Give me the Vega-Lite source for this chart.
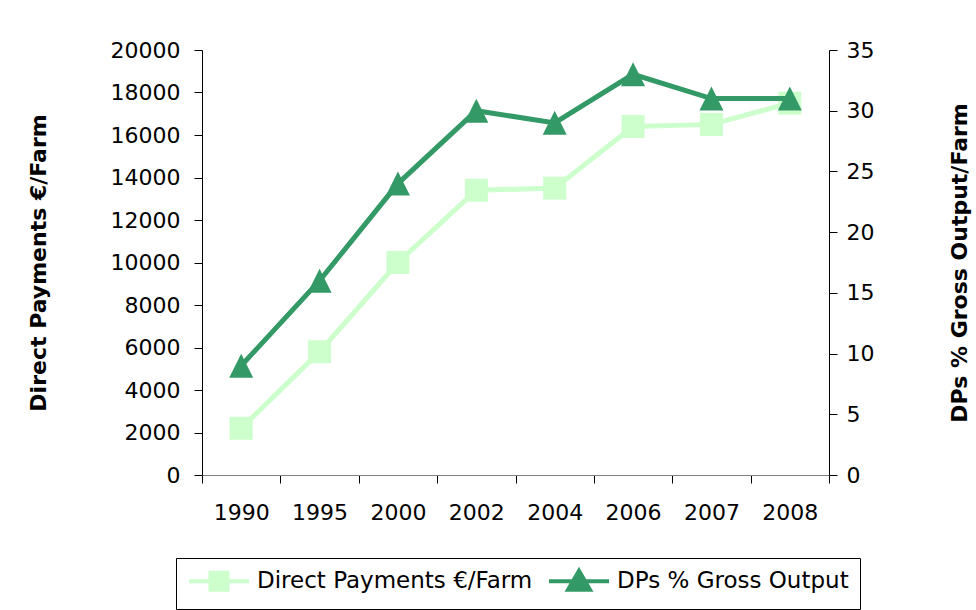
{
  "$schema": "https://vega.github.io/schema/vega-lite/v6.json",
  "width": 627,
  "height": 425,
  "autosize": {"type": "none"},
  "padding": {"left": 202, "top": 50, "right": 147, "bottom": 135},
  "background": "white",
  "config": {
    "view": {"stroke": null},
    "font": "DejaVu Sans",
    "axis": {"grid": false, "labelFont": "DejaVu Sans", "labelFontSize": 22, "labelColor": "#000", "titleFont": "DejaVu Sans", "titleFontSize": 22, "titleFontWeight": "bold", "titleColor": "#000", "tickColor": "#000", "domainColor": "#000", "tickSize": 8, "domainWidth": 1, "tickWidth": 1},
    "legend": {"labelFont": "DejaVu Sans", "labelFontSize": 23, "labelColor": "#000", "symbolOpacity": 1, "labelLimit": 0}
  },
  "data": {
    "values": [
      {"year": "1990", "dp": 2200, "pct": 9},
      {"year": "1995", "dp": 5800, "pct": 16},
      {"year": "2000", "dp": 10000, "pct": 24},
      {"year": "2002", "dp": 13400, "pct": 30},
      {"year": "2004", "dp": 13500, "pct": 29},
      {"year": "2006", "dp": 16400, "pct": 33},
      {"year": "2007", "dp": 16500, "pct": 31},
      {"year": "2008", "dp": 17500, "pct": 31}
    ]
  },
  "encoding": {
    "x": {
      "field": "year", "type": "ordinal", "sort": null,
      "scale": {"paddingInner": 0, "paddingOuter": 0},
      "axis": {"title": null, "labelAngle": 0, "domainColor": "#808080", "tickBand": "extent", "labelPadding": 19}
    }
  },
  "layer": [
    {
      "encoding": {
        "y": {
          "field": "dp", "type": "quantitative",
          "scale": {"domain": [0, 20000], "nice": false},
          "axis": {"title": "Direct Payments €/Farm", "orient": "left", "values": [0, 2000, 4000, 6000, 8000, 10000, 12000, 14000, 16000, 18000, 20000], "format": "d", "labelPadding": 14, "titlePadding": 60}
        },
        "color": {
          "datum": "Direct Payments €/Farm",
          "scale": {"domain": ["Direct Payments €/Farm", "DPs % Gross Output"], "range": ["#CCFFCC", "#339966"]},
          "legend": {
            "title": null, "orient": "none", "legendX": -26, "legendY": 508, "direction": "horizontal",
            "strokeColor": "#000", "padding": 11, "symbolSize": 400, "symbolStrokeWidth": 4,
            "labelOffset": 46, "columnPadding": 8, "labelLimit": 0,
            "encode": {"symbols": {"update": {
              "shape": {"signal": "datum.value === 'DPs % Gross Output' ? 'M-1,0H5M2,-1.05L3.1,0.85H0.9Z' : 'M-1,0H5M1.15,-0.85H2.85V0.85H1.15Z'"},
              "fill": {"scale": "color", "field": "value"},
              "stroke": {"scale": "color", "field": "value"},
              "opacity": {"value": 1}
            }}}
          }
        }
      },
      "layer": [
        {"mark": {"type": "line", "strokeWidth": 5}},
        {"mark": {"type": "point", "shape": "square", "size": 529, "filled": true, "opacity": 1}}
      ]
    },
    {
      "encoding": {
        "y": {
          "field": "pct", "type": "quantitative",
          "scale": {"domain": [0, 35], "nice": false},
          "axis": {"title": "DPs % Gross Output/Farm", "orient": "right", "values": [0, 5, 10, 15, 20, 25, 30, 35], "labelPadding": 9, "titlePadding": 98, "titleAngle": -90}
        },
        "color": {
          "datum": "DPs % Gross Output",
          "scale": {"domain": ["Direct Payments €/Farm", "DPs % Gross Output"], "range": ["#CCFFCC", "#339966"]}
        }
      },
      "layer": [
        {"mark": {"type": "line", "strokeWidth": 5}},
        {"mark": {"type": "point", "shape": "M0,-1L1,1H-1Z", "size": 576, "filled": true, "opacity": 1}}
      ]
    }
  ],
  "resolve": {"scale": {"y": "independent"}}
}
